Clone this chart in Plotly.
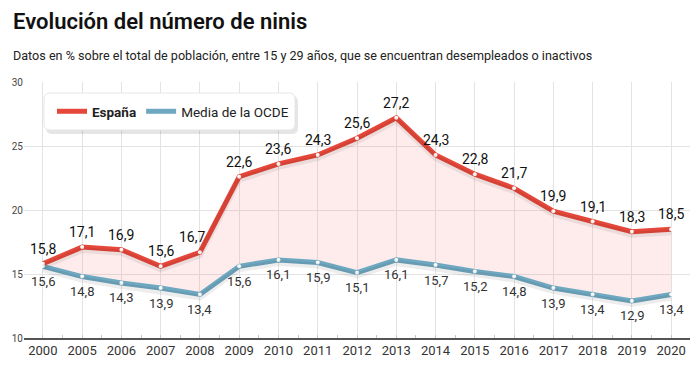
import plotly.graph_objects as go

years = ["2000", "2005", "2006", "2007", "2008", "2009", "2010", "2011", "2012",
         "2013", "2014", "2015", "2016", "2017", "2018", "2019", "2020"]
espana = [15.8, 17.1, 16.9, 15.6, 16.7, 22.6, 23.6, 24.3, 25.6, 27.2, 24.3, 22.8,
          21.7, 19.9, 19.1, 18.3, 18.5]
ocde = [15.6, 14.8, 14.3, 13.9, 13.4, 15.6, 16.1, 15.9, 15.1, 16.1, 15.7, 15.2,
        14.8, 13.9, 13.4, 12.9, 13.4]
y_ticks = [10, 15, 20, 25, 30]

W, H = 700, 375
L, R, T, B = 24, 690, 82, 338
FONT = "Roboto"
RED = "#e5473a"
BLUE = "#6ea7c0"

def px2x(p):
    return (p - L) / (R - L)

def px2y(p):
    return (B - p) / (B - T)

idx = list(range(len(years)))

fig = go.Figure()

# shadows (secondary axis shifted slightly)
fig.add_trace(go.Scatter(x=idx, y=ocde, mode="lines", yaxis="y2",
                         line=dict(color="rgba(0,0,0,0.07)", width=6),
                         showlegend=False, hoverinfo="skip"))
fig.add_trace(go.Scatter(x=idx, y=espana, mode="lines", yaxis="y2",
                         line=dict(color="rgba(0,0,0,0.07)", width=6),
                         showlegend=False, hoverinfo="skip"))

fig.add_trace(go.Scatter(x=idx, y=ocde, mode="lines", name="Media de la OCDE",
                         line=dict(color=BLUE, width=5), showlegend=False))
fig.add_trace(go.Scatter(x=idx, y=espana, mode="lines", name="<b>España</b>",
                         line=dict(color=RED, width=5), fill="tonexty",
                         fillcolor="rgba(240,120,110,0.14)", showlegend=False))
# markers
fig.add_trace(go.Scatter(x=idx, y=ocde, mode="markers",
                         marker=dict(color="white", size=4), showlegend=False))
fig.add_trace(go.Scatter(x=idx, y=espana, mode="markers",
                         marker=dict(color="white", size=4), showlegend=False))

# legend-only traces
fig.add_trace(go.Scatter(x=[None], y=[None], mode="lines", name="<b>España</b>",
                         line=dict(color=RED, width=5)))
fig.add_trace(go.Scatter(x=[None], y=[None], mode="lines", name="Media de la OCDE",
                         line=dict(color=BLUE, width=5)))

annotations = []
for i, v in zip(idx, espana):
    annotations.append(dict(x=i, y=v, xref="x", yref="y", text=f"{v:.1f}".replace(".", ","),
                            showarrow=False, yshift=15, xshift=(-8 if years[i] == "2008" else 0),
                            font=dict(family=FONT, size=14, color="#111")))
for i, v in zip(idx, ocde):
    annotations.append(dict(x=i, y=v, xref="x", yref="y", text=f"{v:.1f}".replace(".", ","),
                            showarrow=False, yshift=-15,
                            font=dict(family=FONT, size=13, color="#333")))

annotations.append(dict(x=px2x(11), y=px2y(21), xref="paper", yref="paper",
                        xanchor="left", yanchor="middle", showarrow=False,
                        text="Evolución del número de ninis",
                        font=dict(family=FONT, size=22, color="#111", weight=600)))
annotations.append(dict(x=px2x(11), y=px2y(55), xref="paper", yref="paper",
                        xanchor="left", yanchor="middle", showarrow=False,
                        text="Datos en % sobre el total de población, entre 15 y 29 años, que se encuentran desempleados o inactivos",
                        font=dict(family=FONT, size=12.6, color="#222")))

# rounded legend box
def rrect(x0, y0, x1, y1, r):
    def P(px, py):
        return f"{px2x(px):.5f},{px2y(py):.5f}"
    return (f"M {P(x0 + r, y0)} L {P(x1 - r, y0)} Q {P(x1, y0)} {P(x1, y0 + r)} "
            f"L {P(x1, y1 - r)} Q {P(x1, y1)} {P(x1 - r, y1)} L {P(x0 + r, y1)} "
            f"Q {P(x0, y1)} {P(x0, y1 - r)} L {P(x0, y0 + r)} Q {P(x0, y0)} {P(x0 + r, y0)} Z")

shapes = [
    dict(type="path", xref="paper", yref="paper", path=rrect(46, 96, 298, 134, 6),
         fillcolor="rgba(0,0,0,0.10)", line=dict(width=0), layer="above"),
    dict(type="path", xref="paper", yref="paper", path=rrect(44, 93, 295, 130, 6),
         fillcolor="white", line=dict(color="#e6e6e6", width=1), layer="above"),
]

shift = 3 / ((B - T) / 20)

fig.update_layout(
    width=W, height=H,
    margin=dict(l=L, r=W - R, t=T, b=H - B, autoexpand=False),
    paper_bgcolor="white", plot_bgcolor="white",
    font=dict(family=FONT),
    showlegend=True,
    legend=dict(orientation="h", x=px2x(52), y=px2y(111.5), xanchor="left", yanchor="middle",
                traceorder="normal",
                bgcolor="rgba(0,0,0,0)", font=dict(family=FONT, size=13.5, color="#222"),
                itemwidth=30),
    annotations=annotations,
    shapes=shapes,
    xaxis=dict(range=[-0.48, 16.48], tickvals=idx, ticktext=years, showgrid=True,
               gridcolor="#e3e3e3", gridwidth=1, zeroline=False, showline=True,
               linecolor="#555", linewidth=1.5, ticks="", fixedrange=True, automargin=False,
               tickfont=dict(family=FONT, size=13, color="#333"),
               minor=dict(dtick=0.5, tick0=0, ticks="inside", ticklen=3, tickcolor="#c8c8c8",
                          showgrid=False)),
    yaxis=dict(range=[10, 30], tickvals=y_ticks, showgrid=True, gridcolor="#e3e3e3",
               zeroline=False, showline=False, ticks="", automargin=False, fixedrange=True,
               tickfont=dict(family=FONT, size=10, color="#444")),
    yaxis2=dict(range=[10 + shift, 30 + shift], overlaying="y", visible=False),
)

fig.write_html("out.html", config={"displayModeBar": False, "staticPlot": True},
               post_script="document.body.style.margin='0';document.body.style.overflow='hidden';")
